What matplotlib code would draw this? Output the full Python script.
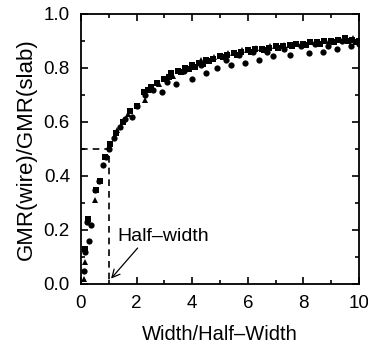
import numpy as np
import matplotlib
matplotlib.use("Agg")
import matplotlib.pyplot as plt
import matplotlib.transforms as mtrans
from matplotlib.ticker import MultipleLocator, FormatStrFormatter

plt.rcParams['font.family'] = ['Liberation Sans', 'DejaVu Sans']

# circles (lower scattered set)
circ_x = [0.1, 0.15, 0.2, 0.3, 0.35, 0.5, 0.65, 0.8, 0.9, 1.0, 1.2, 1.4, 1.6, 1.85, 2.0,
          2.3, 2.6, 2.9, 3.1, 3.4, 3.7, 4.0, 4.3, 4.5, 4.9, 5.2, 5.4, 5.7, 5.9, 6.2, 6.4,
          6.7, 6.9, 7.3, 7.5, 7.9, 8.2, 8.4, 8.7, 8.9, 9.2, 9.4, 9.7, 10.0]
circ_y = [0.05, 0.12, 0.23, 0.16, 0.22, 0.35, 0.38, 0.44, 0.47, 0.50, 0.54, 0.58, 0.61, 0.62, 0.66,
          0.70, 0.72, 0.71, 0.75, 0.74, 0.79, 0.76, 0.81, 0.78, 0.80, 0.83, 0.81, 0.85, 0.82, 0.86, 0.83,
          0.86, 0.845, 0.87, 0.85, 0.88, 0.855, 0.89, 0.86, 0.88, 0.87, 0.90, 0.88, 0.89]

# squares (upper band)
sq_x = [0.15, 0.25, 0.55, 0.7, 0.85, 1.05, 1.25, 1.5, 1.75, 2.0, 2.25, 2.4, 2.5, 2.75, 3.0, 3.15,
        3.25, 3.5, 3.6, 3.75, 3.9, 4.0, 4.1, 4.25, 4.4, 4.5, 4.6, 4.75, 5.0, 5.1, 5.25, 5.5, 5.6,
        5.75, 6.0, 6.1, 6.25, 6.5, 6.6, 6.75, 7.0, 7.1, 7.25, 7.5, 7.6, 7.75, 8.0, 8.1, 8.25,
        8.5, 8.6, 8.75, 9.0, 9.1, 9.25, 9.5, 9.6, 9.75, 9.9, 10.0]
sq_y = [0.13, 0.24, 0.35, 0.38, 0.47, 0.52, 0.56, 0.60, 0.64, 0.66, 0.71, 0.72, 0.73, 0.745, 0.76, 0.765,
        0.78, 0.79, 0.785, 0.80, 0.795, 0.81, 0.805, 0.82, 0.815, 0.83, 0.825, 0.835, 0.845, 0.84, 0.85, 0.855, 0.85,
        0.86, 0.865, 0.86, 0.87, 0.87, 0.865, 0.875, 0.88, 0.875, 0.88, 0.885, 0.88, 0.89, 0.89, 0.885, 0.895,
        0.895, 0.89, 0.90, 0.90, 0.895, 0.905, 0.91, 0.90, 0.905, 0.895, 0.90]

# triangles
tri_x = [0.1, 0.15, 0.5, 1.0, 1.3, 1.7, 2.3, 2.8, 3.3, 3.8, 4.3, 4.8, 5.3, 5.8, 6.3, 6.8,
         7.3, 7.8, 8.3, 8.8, 9.3, 9.8]
tri_y = [0.02, 0.08, 0.31, 0.51, 0.57, 0.63, 0.68, 0.74, 0.77, 0.80, 0.83, 0.84, 0.855, 0.865,
         0.875, 0.88, 0.885, 0.89, 0.895, 0.90, 0.905, 0.91]

fig = plt.figure(figsize=(3.68, 3.43), dpi=100)
ax = fig.add_axes([81/368, 1 - 284/343, 278/368, 270/343])

ax.plot(circ_x, circ_y, 'o', color='black', ms=4.5, mew=0)
ax.plot(sq_x, sq_y, 's', color='black', ms=3.8, mew=0)
ax.plot(tri_x, tri_y, '^', color='black', ms=4.5, mew=0)

# half-width guide
ax.plot([0, 1, 1], [0.5, 0.5, 0], '--', color='black', lw=1.2, dashes=(4, 3))
ax.annotate('Half\u2013width', xy=(1.08, 0.02), xytext=(1.3, 0.175),
            fontsize=14, va='center', ha='left',
            arrowprops=dict(arrowstyle='->', color='black', lw=0.9,
                            shrinkA=0, shrinkB=0, relpos=(0.25, 0)))

ax.set_xlim(0, 10)
ax.set_ylim(0, 1.0)
ax.xaxis.set_major_locator(MultipleLocator(2))
ax.xaxis.set_minor_locator(MultipleLocator(1))
ax.yaxis.set_major_locator(MultipleLocator(0.2))
ax.yaxis.set_minor_locator(MultipleLocator(0.1))
ax.yaxis.set_major_formatter(FormatStrFormatter('%.1f'))
ax.tick_params(which='both', direction='in', top=True, right=True, width=1.2)
ax.tick_params(which='major', length=5, labelsize=13.5)
ax.tick_params(axis='x', which='major', pad=8)
ax.tick_params(axis='y', which='major', pad=8)
ax.tick_params(which='minor', length=3)
for s in ax.spines.values():
    s.set_linewidth(1.3)

ax.set_xlabel('Width/Half\u2013Width', fontsize=14.5, labelpad=9)
ax.set_ylabel('GMR(wire)/GMR(slab)', fontsize=16, labelpad=5)

# keep the "10" label inside the canvas
fig.canvas.draw()
last = ax.get_xticklabels()[-1]
last.set_transform(last.get_transform() + mtrans.ScaledTranslation(-3/72, 0, fig.dpi_scale_trans))

fig.savefig('out.png', dpi=100)
